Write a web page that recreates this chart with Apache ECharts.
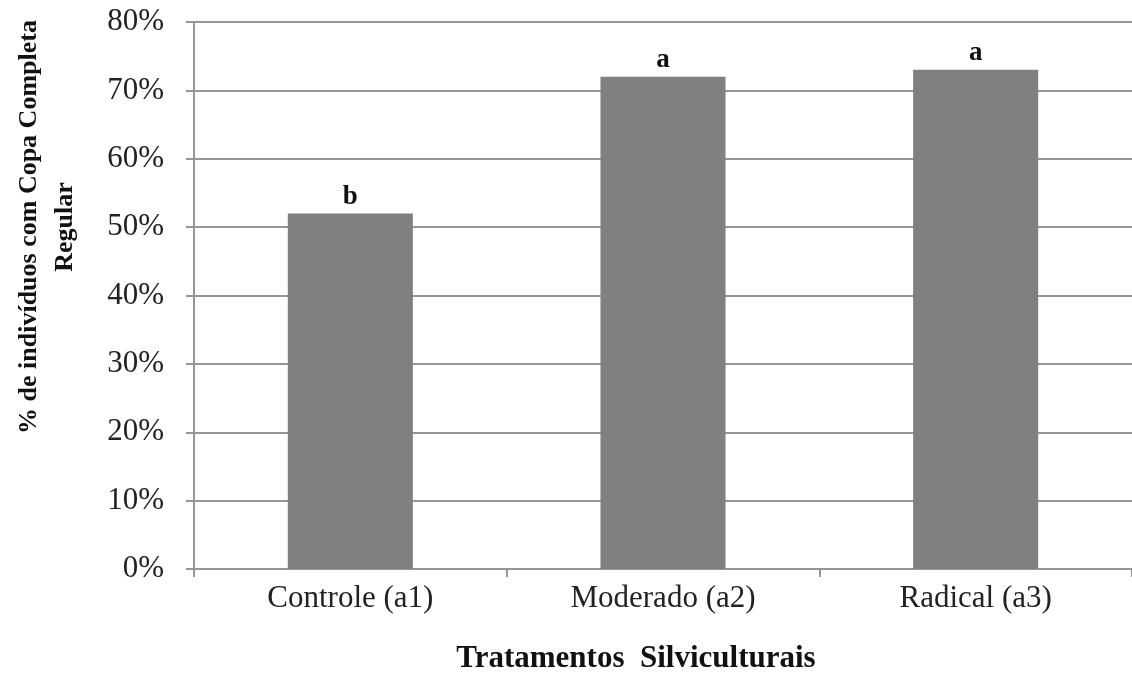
<!DOCTYPE html>
<html>
<head>
<meta charset="utf-8">
<script src="https://cdn.jsdelivr.net/npm/echarts@6/dist/echarts.min.js"></script>
<style>
  html, body { margin: 0; padding: 0; background: #fff; }
  #chart { width: 1132px; height: 680px; }
</style>
</head>
<body>
<div id="chart"></div>
<script>
// dados
const categorias = ['Controle (a1)', 'Moderado (a2)', 'Radical (a3)']
const valores = [52, 72, 73]
const letras = ['b', 'a', 'a']
const yTicks = [0, 10, 20, 30, 40, 50, 60, 70, 80]

const serif = '"Liberation Serif", "Times New Roman", serif'
const cinza = '#969696'

const chart = echarts.init(document.getElementById('chart'))

const option = {
  animation: false,
  backgroundColor: '#fff',
  grid: { left: 194, right: 0, top: 22, bottom: 111 },
  xAxis: {
    type: 'category',
    data: categorias,
    axisLine: { lineStyle: { color: cinza, width: 2 } },
    axisTick: { show: true, length: 8, alignWithLabel: false, lineStyle: { color: cinza, width: 2 } },
    axisLabel: { color: '#222', fontFamily: serif, fontSize: 31, margin: 14 }
  },
  yAxis: {
    type: 'value',
    min: yTicks[0],
    max: yTicks[yTicks.length - 1],
    interval: 10,
    axisLine: { show: true, lineStyle: { color: cinza, width: 2 } },
    axisTick: { show: true, length: 8, lineStyle: { color: cinza, width: 2 } },
    splitLine: { lineStyle: { color: cinza, width: 2 } },
    axisLabel: {
      color: '#222',
      fontFamily: serif,
      fontSize: 31,
      margin: 30,
      formatter: v => v + '%'
    }
  },
  series: [
    {
      type: 'bar',
      barWidth: '40%',
      itemStyle: { color: '#808080' },
      label: {
        show: true,
        position: 'top',
        distance: 3,
        color: '#111',
        fontFamily: serif,
        fontWeight: 'bold',
        fontSize: 27,
        formatter: p => letras[p.dataIndex]
      },
      data: valores
    }
  ],
  graphic: [
    {
      type: 'text',
      x: 47,
      y: 227,
      rotation: Math.PI / 2,
      style: {
        text: '% de indivíduos com Copa Completa\nRegular',
        fontFamily: serif,
        fontWeight: 'bold',
        fontSize: 26,
        lineHeight: 36,
        fill: '#111',
        align: 'center',
        verticalAlign: 'middle'
      }
    },
    {
      type: 'text',
      x: 636,
      y: 659,
      style: {
        text: 'Tratamentos  Silviculturais',
        fontFamily: serif,
        fontWeight: 'bold',
        fontSize: 31,
        fill: '#111',
        align: 'center',
        verticalAlign: 'middle'
      }
    }
  ]
}

chart.setOption(option)
</script>
</body>
</html>
